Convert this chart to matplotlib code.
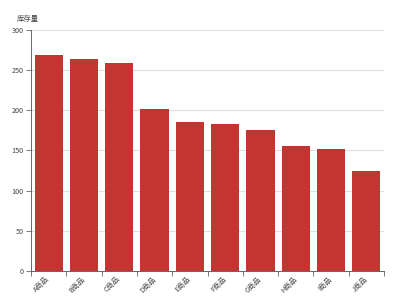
import numpy as np
import matplotlib.pyplot as plt

plt.rcParams['font.family'] = ['Noto Sans CJK SC', 'DejaVu Sans']

goods = ['A商品', 'B商品', 'C商品', 'D商品', 'E商品', 'F商品', 'G商品', 'H商品', 'I商品', 'J商品']
stock = [269, 264, 259, 201, 186, 183, 176, 155, 152, 124]
y_ticks = [0, 50, 100, 150, 200, 250, 300]

fig = plt.figure(figsize=(4, 3), dpi=100)
ax = fig.add_axes([0.0775, 0.097, 0.8825, 0.803])

x = np.arange(len(goods))
ax.bar(x, stock, width=0.8, color='#c23531', zorder=3)

ax.set_xlim(-0.5, len(goods) - 0.5)
ax.set_ylim(0, 300)
ax.set_yticks(y_ticks)
ax.yaxis.grid(True, color='#e0e0e0', linewidth=0.8, zorder=0)

# ticks at category boundaries, labels at centres
ax.set_xticks(np.arange(len(goods) + 1) - 0.5)
ax.set_xticklabels([])
ax.set_xticks(x, minor=True)
ax.set_xticklabels(goods, minor=True, rotation=45, ha='right', va='center',
                   rotation_mode='anchor', fontsize=5.2, color='#444444')
ax.tick_params(axis='x', which='minor', length=0, pad=5)
ax.tick_params(axis='x', which='major', length=3.5, width=0.6, color='#666666')
ax.tick_params(axis='y', length=3.5, width=0.6, color='#666666',
               labelsize=5.2, labelcolor='#444444', pad=2)

for side in ['top', 'right']:
    ax.spines[side].set_visible(False)
for side in ['left', 'bottom']:
    ax.spines[side].set_color('#666666')
    ax.spines[side].set_linewidth(0.7)

fig.text(0.07, 0.937, '库存量', fontsize=5.3, color='#444444', ha='center', va='center')

fig.savefig('out.png', dpi=100)
